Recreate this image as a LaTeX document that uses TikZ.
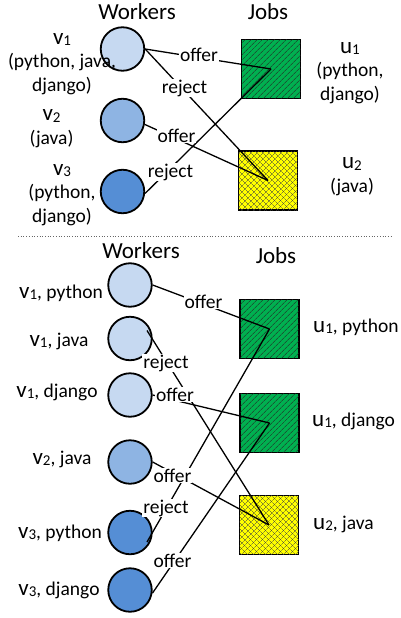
\documentclass[tikz,border=0pt]{standalone}
\usepackage{fontspec}
\setmainfont{Carlito}
\usetikzlibrary{patterns.meta,calc}
\definecolor{cA}{HTML}{C6D9F1}
\definecolor{cB}{HTML}{8EB4E3}
\definecolor{cC}{HTML}{558ED5}
\definecolor{jgreen}{RGB}{0,176,80}
\definecolor{jyellow}{RGB}{255,255,0}
\newcommand\vnm[1]{{\fontsize{23}{23}\selectfont v}\raisebox{-1.5pt}{\fontsize{15}{15}\selectfont #1}}
\newcommand\unm[1]{{\fontsize{23}{23}\selectfont u}\raisebox{-1.5pt}{\fontsize{15}{15}\selectfont #1}}
\begin{document}
\begin{tikzpicture}[x=1pt,y=-1pt,
  worker/.style={circle, draw=black, line width=1.8pt, minimum size=43.5pt, inner sep=0pt},
  wA/.style={worker, fill=cA},
  wB/.style={worker, fill=cB},
  wC/.style={worker, fill=cC},
  job/.style={rectangle, draw=black, line width=1.8pt, minimum size=59pt, inner sep=0pt},
  jobG/.style={job, fill=jgreen,
     postaction={pattern={Lines[angle=45,distance=4pt,line width=0.6pt]}, pattern color=black!85}},
  jobY/.style={job, fill=jyellow,
     postaction={pattern={Lines[angle=45,distance=4pt,line width=0.45pt]}, pattern color=black!75},
     postaction={pattern={Lines[angle=-45,distance=4pt,line width=0.45pt]}, pattern color=black!75}},
  conn/.style={line width=1.3pt},
  lbl/.style={fill=white, inner sep=1pt, anchor=base, font=\fontsize{19.5}{20}\selectfont},
  txt/.style={inner sep=0pt, font=\fontsize{19.5}{23.5}\selectfont},
  head/.style={inner sep=0pt, anchor=base, font=\fontsize{23}{24}\selectfont}
]
\useasboundingbox (0,0) rectangle (400,618);

% ---------- top part ----------
\node[head] (tw) at (137,20) {Workers};
\node[head] (tj) at (268,20) {Jobs};

\node[wA] (tv1) at (122.5,49) {};
\node[wB] (tv2) at (122.5,120.5) {};
\node[wC] (tv3) at (122.5,191.5) {};
\node[jobG] (tu1) at (271,69) {};
\node[jobY] (tu2) at (268,180.5) {};

\node[txt, align=center, anchor=base] (tv1l) at (62,91) {\vnm{1}\\(python, java,\\django)};
\node[txt, align=center, anchor=base] (tv2l) at (51.5,144) {\vnm{2}\\(java)};
\node[txt, align=center, anchor=base] (tv3l) at (62,222) {\vnm{3}\\(python,\\django)};
\node[txt, align=center, anchor=base] (tu1l) at (350,100) {\unm{1}\\(python,\\django)};
\node[txt, align=center, anchor=base] (tu2l) at (352,192) {\unm{2}\\(java)};

\draw[conn] (tv1.east) -- (tu1.center);
\draw[conn] (tv1.east) -- (tu2.center);
\draw[conn] (tv2.-10) -- (tu2.center);
\draw[conn] (tv3.-5) -- (tu1.center);

\node[lbl] (tl1) at (199,62) {offer};
\node[lbl] (tl2) at (184.5,93) {reject};
\node[lbl] (tl3) at (176.5,142) {offer};
\node[lbl] (tl4) at (170.5,177) {reject};

% separator
\draw[dotted, black!60, line width=0.7pt] (18,236) -- (392,236);

% ---------- bottom part ----------
\node[head] (bw) at (141,258) {Workers};
\node[head] (bj) at (276,263) {Jobs};

\node[wA] (bv1p) at (130,285) {};
\node[wA] (bv1j) at (130,338.5) {};
\node[wA] (bv1d) at (130,395) {};
\node[wB] (bv2j) at (130,462) {};
\node[wC] (bv3p) at (130,532.5) {};
\node[wC] (bv3d) at (130,590) {};
\node[jobG] (bu1p) at (269.5,329) {};
\node[jobG] (bu1d) at (269.5,423) {};
\node[jobY] (bu2j) at (269,525) {};

\node[txt, anchor=base east] (bv1pl) at (103,298) {\vnm{1}, python};
\node[txt, anchor=base] (bv1jl) at (59,346) {\vnm{1}, java};
\node[txt, anchor=base] (bv1dl) at (57,397) {\vnm{1}, django};
\node[txt, anchor=base] (bv2jl) at (62,464) {\vnm{2}, java};
\node[txt, anchor=base] (bv3pl) at (60,538) {\vnm{3}, python};
\node[txt, anchor=base] (bv3dl) at (59,595) {\vnm{3}, django};
\node[txt, anchor=base west] (bu1pl) at (313,332) {\unm{1}, python};
\node[txt, anchor=base west] (bu1dl) at (312,426) {\unm{1}, django};
\node[txt, anchor=base west] (bu2jl) at (313,529) {\unm{2}, java};

\coordinate (b2s) at ($(bv1j.center)+(17,-8)$);
\coordinate (b5s) at ($(bv3p.center)+(17,9.5)$);

\draw[conn] (bv1p.east) -- (bu1p.center);
\draw[conn] (b2s) -- (bu2j.center);
\draw[conn] (bv1d.east) -- (bu1d.center);
\draw[conn] (bv2j.east) -- (bu2j.center);
\draw[conn] (b5s) -- (bu1p.center);
\draw[conn] (bv3d.-8) -- (bu1d.center);

\node[lbl] (bl1) at (203.5,308) {offer};
\node[lbl] (bl2) at (166,368) {reject};
\node[lbl] (bl3) at (175,401) {offer};
\node[lbl] (bl4) at (172.5,482) {offer};
\node[lbl] (bl5) at (166,513) {reject};
\node[lbl] (bl6) at (172.5,567) {offer};
\end{tikzpicture}
\end{document}
